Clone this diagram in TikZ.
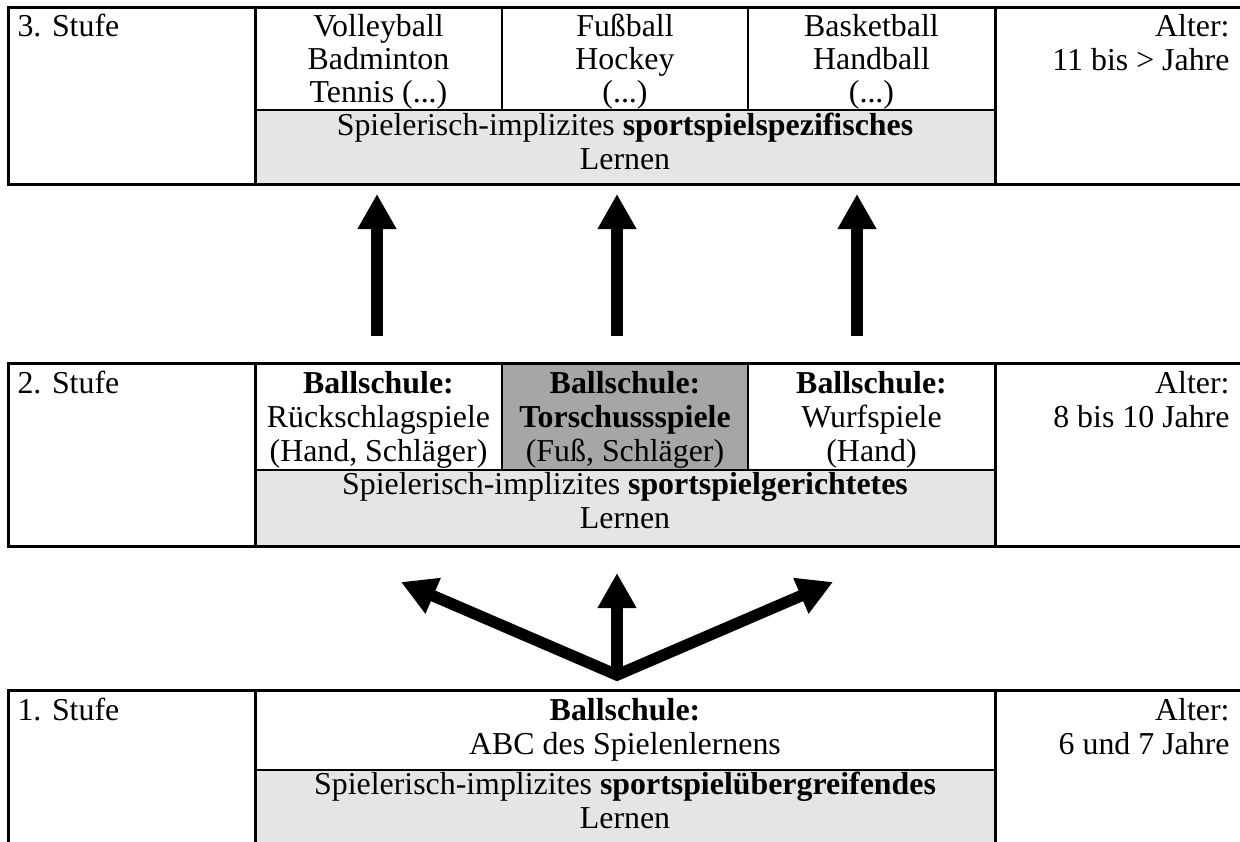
\documentclass[tikz,border=0pt]{standalone}
\usepackage{fontspec}
\setmainfont{Liberation Serif}
\usetikzlibrary{arrows.meta}
\definecolor{lightcell}{RGB}{229,229,229}
\definecolor{darkcell}{RGB}{166,166,166}
\tikzset{
  rule/.style={line width=1.2pt, line cap=rect},
  thinrule/.style={line width=0.9pt},
  txt/.style={inner sep=0pt, anchor=base, font=\fontsize{12.75}{14.5}\selectfont},
  txtl/.style={txt, anchor=base west},
  txtr/.style={txt, anchor=base east},
  bigarrow/.style={line width=4.6pt, -{Triangle[length=14pt,width=14.6pt]}},
  bigarrowboth/.style={line width=4.6pt, {Triangle[length=14pt,width=14.6pt]}-{Triangle[length=14pt,width=14.6pt]}, line join=miter}
}
\begin{document}
\begin{tikzpicture}[x=0.4pt,y=-0.4pt]
\useasboundingbox (0,0) rectangle (1240,841);
% ---------- top table (3. Stufe)
\fill[lightcell] (255,110) rectangle (995,184);
\draw[thinrule] (502,7) -- (502,110) (748,7) -- (748,110) (255,110) -- (995,110);
\draw[rule] (8,7) -- (1240,7) (8,184) -- (1240,184) (8,7) -- (8,184) (255,7) -- (255,184) (995,7) -- (995,184);
\node[txtl] (s3) at (17,36) {3. Stufe};
\node[txt] (v1) at (378.5,36) {Volleyball};
\node[txt] (v2) at (378.5,69) {Badminton};
\node[txt] (v3) at (378.5,102) {Tennis (...)};
\node[txt] (f1) at (625,36) {Fußball};
\node[txt] (f2) at (625,69) {Hockey};
\node[txt] (f3) at (625,102) {(...)};
\node[txt] (b1) at (871.5,36) {Basketball};
\node[txt] (b2) at (871.5,69) {Handball};
\node[txt] (b3) at (871.5,102) {(...)};
\node[txt] (l3a) at (625,135) {Spielerisch-implizites \textbf{sportspielspezifisches}};
\node[txt] (l3b) at (625,169) {Lernen};
\node[txtr] (a3a) at (1230,36) {Alter:};
\node[txtr] (a3b) at (1230,70) {11 bis > Jahre};
% ---------- middle table (2. Stufe)
\fill[darkcell] (502,363) rectangle (748,470);
\fill[lightcell] (255,470) rectangle (995,546);
\draw[thinrule] (502,363) -- (502,470) (748,363) -- (748,470) (255,470) -- (995,470);
\draw[rule] (8,363) -- (1240,363) (8,546) -- (1240,546) (8,363) -- (8,546) (255,363) -- (255,546) (995,363) -- (995,546);
\node[txtl] (s2) at (17,393) {2. Stufe};
\node[txt] (r1) at (378.5,393) {\textbf{Ballschule:}};
\node[txt] (r2) at (378.5,427) {Rückschlagspiele};
\node[txt] (r3) at (378.5,461) {(Hand, Schläger)};
\node[txt] (t1) at (625,393) {\textbf{Ballschule:}};
\node[txt] (t2) at (625,427) {\textbf{Torschussspiele}};
\node[txt] (t3) at (625,461) {(Fuß, Schläger)};
\node[txt] (w1) at (871.5,393) {\textbf{Ballschule:}};
\node[txt] (w2) at (871.5,427) {Wurfspiele};
\node[txt] (w3) at (871.5,461) {(Hand)};
\node[txt] (l2a) at (625,494) {Spielerisch-implizites \textbf{sportspielgerichtetes}};
\node[txt] (l2b) at (625,528) {Lernen};
\node[txtr] (a2a) at (1230,393) {Alter:};
\node[txtr] (a2b) at (1230,427) {8 bis 10 Jahre};
% ---------- bottom table (1. Stufe)
\fill[lightcell] (255,770) rectangle (995,845);
\draw[thinrule] (255,770) -- (995,770);
\draw[rule] (8,690) -- (1240,690) (8,690) -- (8,845) (255,690) -- (255,845) (995,690) -- (995,845);
\node[txtl] (s1) at (17,720) {1. Stufe};
\node[txt] (c1) at (625,720) {\textbf{Ballschule:}};
\node[txt] (c2) at (625,754) {ABC des Spielenlernens};
\node[txt] (l1a) at (625,794) {Spielerisch-implizites \textbf{sportspielübergreifendes}};
\node[txt] (l1b) at (625,828) {Lernen};
\node[txtr] (a1a) at (1230,720) {Alter:};
\node[txtr] (a1b) at (1230,754) {6 und 7 Jahre};
% ---------- arrows between 2. and 3. Stufe
\coordinate (u1s) at (377,336); \coordinate (u1e) at (377,194);
\coordinate (u2s) at (617,336); \coordinate (u2e) at (617,194);
\coordinate (u3s) at (857,336); \coordinate (u3e) at (857,194);
\draw[bigarrow] (u1s) -- (u1e);
\draw[bigarrow] (u2s) -- (u2e);
\draw[bigarrow] (u3s) -- (u3e);
% ---------- arrows between 1. and 2. Stufe
\coordinate (root) at (617,675);
\coordinate (dl) at (401,582);
\coordinate (dm) at (617,573);
\coordinate (dr) at (833,582);
\draw[bigarrowboth] (dl) -- (root) -- (dr);
\draw[bigarrow] (root) -- (dm);
\end{tikzpicture}
\end{document}
